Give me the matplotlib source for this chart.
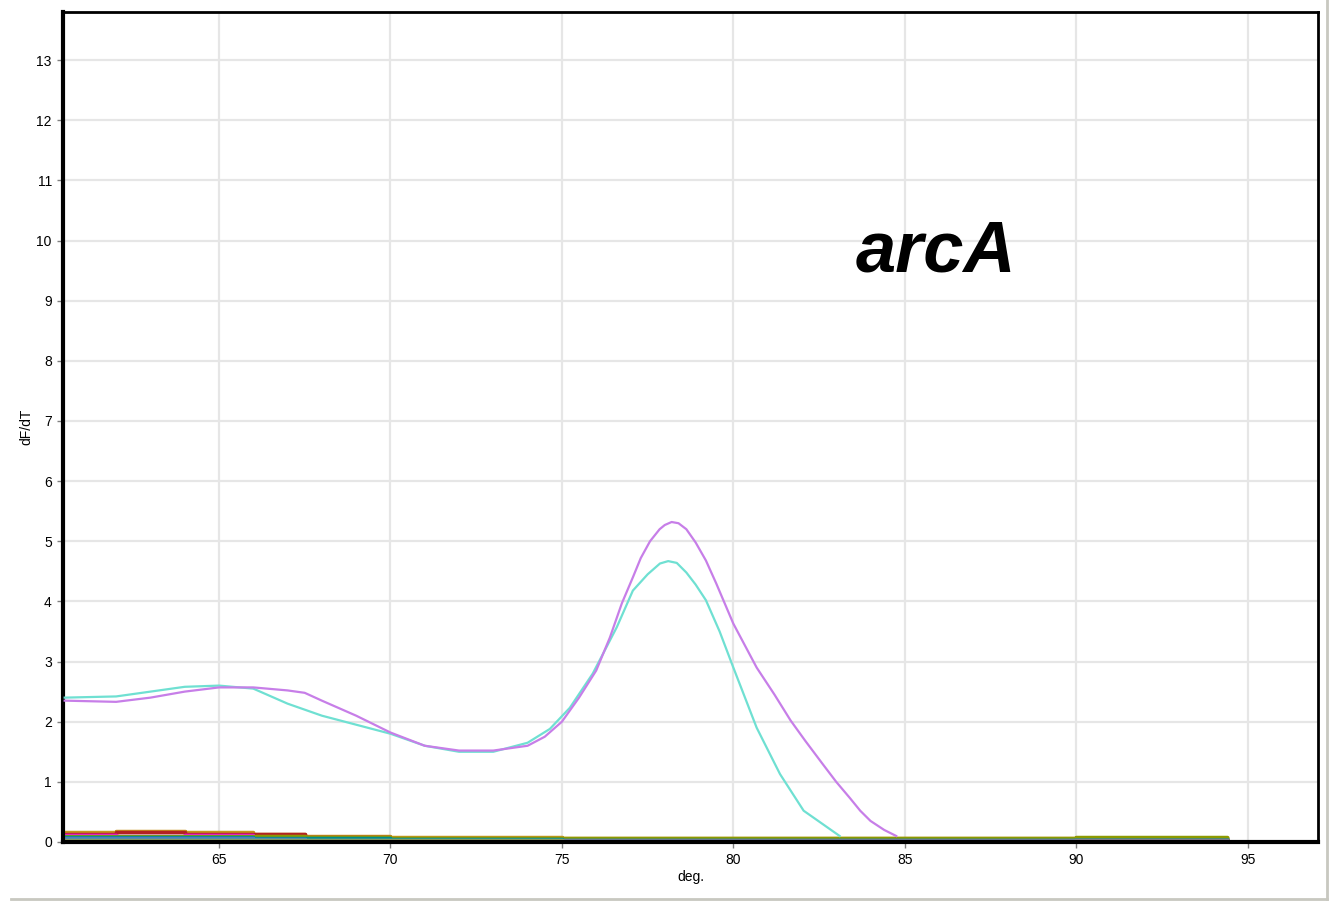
import numpy as np
import matplotlib.pyplot as plt
from matplotlib.lines import Line2D

plt.rcParams['font.family'] = ['Liberation Sans', 'DejaVu Sans']

# melt curves (temperature, dF/dT)
purple_t = [60.5, 62, 63, 64, 65, 66, 67, 67.5, 68, 69, 70, 71, 72, 73, 74, 74.5, 75, 75.5, 76,
            76.4, 76.75, 77.07, 77.3, 77.57, 77.85, 78.0, 78.2, 78.4, 78.63, 78.9, 79.2, 79.5,
            80, 80.68, 81.2, 81.67, 82.1, 82.6, 83.0, 83.4, 83.7, 84.0, 84.4, 84.75]
purple_v = [2.35, 2.33, 2.4, 2.5, 2.57, 2.57, 2.52, 2.48, 2.35, 2.1, 1.82, 1.6, 1.52, 1.52, 1.6,
            1.75, 2.0, 2.4, 2.85, 3.4, 3.97, 4.4, 4.72, 5.0, 5.2, 5.27, 5.32, 5.3, 5.2, 4.98,
            4.68, 4.3, 3.63, 2.9, 2.45, 2.02, 1.68, 1.3, 1.0, 0.73, 0.52, 0.35, 0.2, 0.1]
teal_t = [60.5, 62, 63, 64, 65, 66, 67, 68, 69, 70, 71, 72, 73, 74, 74.65, 75.23, 75.9, 76.6,
          77.07, 77.5, 77.86, 78.1, 78.35, 78.63, 78.9, 79.2, 79.6, 80, 80.68, 81.36, 82.05,
          82.6, 83.1]
teal_v = [2.4, 2.42, 2.5, 2.58, 2.6, 2.55, 2.3, 2.1, 1.95, 1.8, 1.6, 1.5, 1.5, 1.65, 1.88, 2.23,
          2.8, 3.57, 4.18, 4.45, 4.63, 4.67, 4.64, 4.48, 4.28, 4.02, 3.5, 2.9, 1.9, 1.13, 0.52,
          0.3, 0.1]

# flat baseline traces (no product)
base_t = [60.5, 62, 64, 66, 67.5, 70, 75, 80, 85, 90, 94.4]
base_traces = {
    '#c8961e': [0.16, 0.19, 0.16, 0.13, 0.10, 0.08, 0.07, 0.07, 0.07, 0.07, 0.07],
    '#b22222': [0.14, 0.17, 0.13, 0.14, 0.08, 0.05, 0.04, 0.04, 0.03, 0.03, 0.03],
    '#ff00ff': [0.12, 0.10, 0.11, 0.09, 0.05, 0.03, 0.02, 0.02, 0.02, 0.02, 0.02],
    '#8c9a00': [0.10, 0.10, 0.10, 0.10, 0.08, 0.07, 0.06, 0.06, 0.06, 0.08, 0.05],
    '#008b8b': [0.09, 0.08, 0.08, 0.07, 0.06, 0.05, 0.04, 0.04, 0.04, 0.04, 0.04],
    '#4a7fc0': [0.07, 0.07, 0.06, 0.05, 0.04, 0.03, 0.03, 0.03, 0.03, 0.03, 0.03],
    '#7cba5a': [0.03, 0.03, 0.03, 0.03, 0.03, 0.03, 0.02, 0.02, 0.02, 0.02, 0.02],
    '#c86496': [0.02, 0.02, 0.02, 0.02, 0.02, 0.02, 0.01, 0.01, 0.01, 0.01, 0.01],
    '#000000': [0.00, 0.00, 0.00, 0.00, 0.00, 0.00, 0.00, 0.00, 0.00, 0.00, 0.00],
}

xticks = [65, 70, 75, 80, 85, 90, 95]
yticks = list(range(0, 14))

fig = plt.figure(figsize=(13.34, 9.01), dpi=100)
ax = fig.add_axes([0.0472, 0.0655, 0.9408, 0.9212])

for color, vals in base_traces.items():
    ax.plot(base_t, vals, color=color, lw=2.5, drawstyle='steps-post', zorder=2)
    ax.plot([base_t[-2], base_t[-1]], [vals[-1], vals[-1]], color=color, lw=2.5, zorder=2)

ax.plot(teal_t, teal_v, color='#6fe0d2', lw=1.6, zorder=3)
ax.plot(purple_t, purple_v, color='#c77ee8', lw=1.6, zorder=4)

ax.set_xlim(60.45, 97.05)
ax.set_ylim(0, 13.8)
ax.set_xticks(xticks)
ax.set_yticks(yticks)
ax.grid(True, color='#e6e6e6', lw=1.6, zorder=0)
ax.set_axisbelow(True)
ax.tick_params(direction='out', length=4, width=1, color='#808080', labelsize=10, pad=4)

for side in ['left', 'bottom']:
    ax.spines[side].set_linewidth(3)
for side in ['top', 'right']:
    ax.spines[side].set_linewidth(2)

ax.set_xlabel('deg.', fontsize=10, labelpad=2)
ax.set_ylabel('dF/dT', fontsize=10, labelpad=2)

ax.text(85.9, 9.8, 'arcA', fontsize=52, fontweight='bold', fontstyle='italic',
        ha='center', va='center')

# thin window frame around the picture
fig.add_artist(Line2D([0.008, 0.995], [0.002, 0.002], color='#c8c8c0', lw=2))
fig.add_artist(Line2D([0.995, 0.995], [0.002, 1.0], color='#c8c8c0', lw=2))

fig.savefig('out.png', dpi=100)
